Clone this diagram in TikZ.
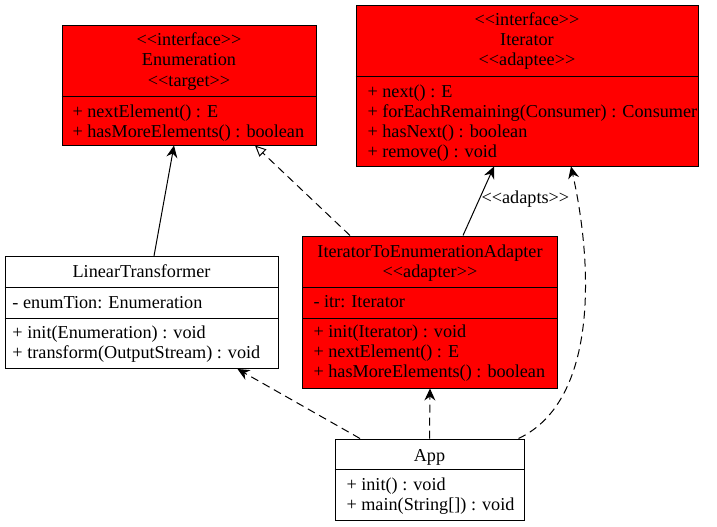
\documentclass[tikz,border=0pt]{standalone}
\usepackage{fontspec}
\setmainfont{Liberation Serif}
\usetikzlibrary{arrows.meta}
\definecolor{umlred}{RGB}{255,0,0}
\tikzset{
  cls/.style={draw, line width=1pt, inner sep=0pt},
  hd/.style={anchor=base, inner sep=0pt},
  mb/.style={anchor=base west, inner sep=0pt},
  vee/.style={-{Stealth[length=12pt,width=11pt,inset=4pt]}},
  dep/.style={vee, dash pattern=on 8pt off 5pt},
  real/.style={dash pattern=on 8pt off 5pt, -{Triangle[open,fill=white,length=11pt,width=10pt]}}
}
\begin{document}
\begin{tikzpicture}[x=1pt, y=-1pt, line width=1pt, font=\fontsize{18.2}{20}\selectfont]
\useasboundingbox (0,0) rectangle (717,527);

% Enumeration
\node [cls, fill=umlred, minimum width=254pt, minimum height=119pt] (enum) at (189,85.5) {};
\draw (enum.west |- 0,96) -- (enum.east |- 0,96);
\node [hd] (enumA) at (189,46) {<{}<interface>{}>};
\node [hd] (enumB) at (189,66) {Enumeration};
\node [hd] (enumC) at (189,86) {<{}<target>{}>};
\node [mb] (enumD) at (72,117) {+ nextElement() : E};
\node [mb] (enumE) at (72,137) {+ hasMoreElements() : boolean};

% Iterator
\node [cls, fill=umlred, minimum width=342pt, minimum height=160pt] (iter) at (527,86) {};
\draw (iter.west |- 0,76) -- (iter.east |- 0,76);
\node [hd] (iterA) at (527,26) {<{}<interface>{}>};
\node [hd] (iterB) at (527,46) {Iterator};
\node [hd] (iterC) at (527,66) {<{}<adaptee>{}>};
\node [mb] (iterD) at (367,97) {+ next() : E};
\node [mb] (iterE) at (367,117) {+ forEachRemaining(Consumer) : Consumer};
\node [mb] (iterF) at (367,137) {+ hasNext() : boolean};
\node [mb] (iterG) at (367,157) {+ remove() : void};

% LinearTransformer
\node [cls, fill=white, minimum width=273pt, minimum height=112pt] (lt) at (141.5,312.5) {};
\draw (lt.west |- 0,287) -- (lt.east |- 0,287);
\draw (lt.west |- 0,318) -- (lt.east |- 0,318);
\node [hd] (ltA) at (141.5,277.5) {LinearTransformer};
\node [mb] (ltB) at (12,308) {- enumTion: Enumeration};
\node [mb] (ltC) at (12,338) {+ init(Enumeration) : void};
\node [mb] (ltD) at (12,358) {+ transform(OutputStream) : void};

% IteratorToEnumerationAdapter
\node [cls, fill=umlred, minimum width=255pt, minimum height=152pt] (adp) at (430,312) {};
\draw (adp.west |- 0,287) -- (adp.east |- 0,287);
\draw (adp.west |- 0,318) -- (adp.east |- 0,318);
\node [hd] (adpA) at (430,257.5) {IteratorToEnumerationAdapter};
\node [hd] (adpB) at (430,277.5) {<{}<adapter>{}>};
\node [mb] (adpC) at (313,307.5) {- itr: Iterator};
\node [mb] (adpD) at (313,337.5) {+ init(Iterator) : void};
\node [mb] (adpE) at (313,357.5) {+ nextElement() : E};
\node [mb] (adpF) at (313,377.5) {+ hasMoreElements() : boolean};

% App
\node [cls, fill=white, minimum width=189pt, minimum height=81pt] (app) at (429.5,479.5) {};
\draw (app.west |- 0,469) -- (app.east |- 0,469);
\node [hd] (appA) at (429.5,461) {App};
\node [mb] (appB) at (346,490) {+ init() : void};
\node [mb] (appC) at (346,510) {+ main(String[]) : void};

% connectors
\draw [vee] ([xshift=12.5pt]lt.north) -- ([xshift=-15pt]enum.south);
\draw [real] ([xshift=-80pt]adp.north) -- ([xshift=66pt]enum.south);
\draw [vee] ([xshift=33pt]adp.north) -- ([xshift=-33pt]iter.south)
  node [pos=0.52, right, inner sep=2pt] (adapts) {<{}<adapts>{}>};
\draw [dep] ([xshift=-69.5pt]app.north) -- ([xshift=96pt]lt.south);
\draw [dep] (app.north) -- (adp.south);
\draw [dep] ([xshift=89pt]app.north) .. controls (600,400) and (592,260) .. ([xshift=44pt]iter.south);

\end{tikzpicture}
\end{document}
